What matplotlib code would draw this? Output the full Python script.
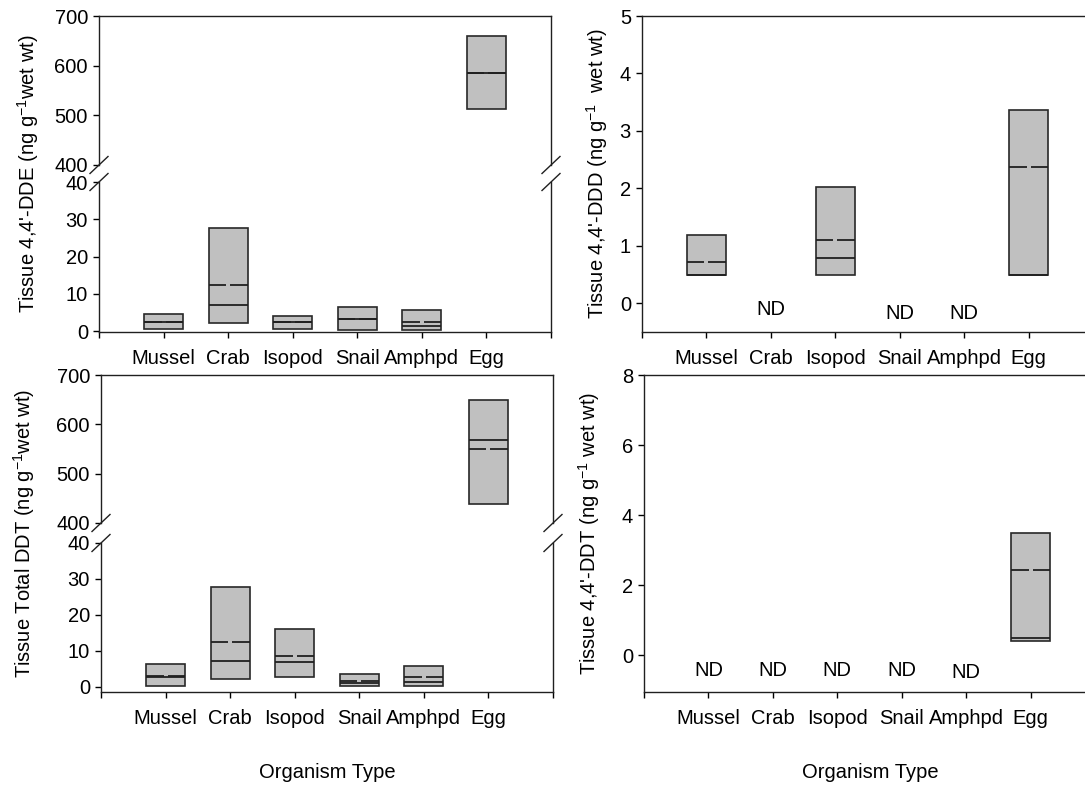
import numpy as np
import matplotlib
matplotlib.use("Agg")
import matplotlib.pyplot as plt

plt.rcParams['font.family'] = ['Liberation Sans', 'DejaVu Sans']
plt.rcParams['mathtext.fontset'] = 'custom'
plt.rcParams['mathtext.rm'] = 'Liberation Sans'
plt.rcParams['mathtext.it'] = 'Liberation Sans'
plt.rcParams['font.size'] = 14.5

# Datos (rango min-max, mediana y media por organismo); None = no detectado
categorias = ['Mussel', 'Crab', 'Isopod', 'Snail', 'Amphpd', 'Egg']

dde_min = [0.5, 2.2, 0.7, 0.45, 0.45, 512]
dde_max = [4.5, 27.6, 4.0, 6.6, 5.8, 660]
dde_med = [2.4, 7.0, 2.4, 3.2, 1.3, 585]
dde_mean = [2.5, 12.3, 2.4, 3.4, 2.5, 585]

ddd_min = [0.49, None, 0.49, None, None, 0.49]
ddd_max = [1.18, None, 2.03, None, None, 3.37]
ddd_med = [0.50, None, 0.79, None, None, 0.50]
ddd_mean = [0.72, None, 1.10, None, None, 2.37]
ddd_nd_y = [None, -0.1, None, -0.18, -0.18, None]

tot_min = [0.3, 2.2, 2.6, 0.2, 0.3, 439]
tot_max = [6.3, 27.8, 16.1, 3.6, 5.8, 650]
tot_med = [2.6, 7.0, 6.9, 1.0, 1.3, 568]
tot_mean = [2.9, 12.3, 8.5, 1.7, 2.6, 549]

ddt_min = [None, None, None, None, None, 0.40]
ddt_max = [None, None, None, None, None, 3.49]
ddt_med = [None, None, None, None, None, 0.49]
ddt_mean = [None, None, None, None, None, 2.43]
ddt_nd_y = [-0.43, -0.43, -0.43, -0.43, -0.48, None]

x = np.arange(1, 7)
ancho = 0.6
W, H = 1085, 787


def cajas(ax, lo, hi, med, mean):
    for xi, a, b, m, mu in zip(x, lo, hi, med, mean):
        if a is None:
            continue
        ax.bar(xi, b - a, bottom=a, width=ancho, color='#c0c0c0',
               edgecolor='#282828', linewidth=1.2, zorder=2)
        ax.hlines(m, xi - ancho / 2, xi + ancho / 2, color='#202020',
                  linewidth=1.3, zorder=3)
        # media: linea con un pequeño hueco en el centro
        ax.hlines([mu, mu], [xi - ancho / 2, xi + 0.03], [xi - 0.03, xi + ancho / 2],
                  color='#202020', linewidth=1.3, zorder=3)


def estilo(ax):
    ax.set_xlim(0, 7)
    ax.tick_params(direction='out', length=4, width=1, pad=4)
    for s in ax.spines.values():
        s.set_color('#202020')
        s.set_linewidth(1)


def ejes_x(ax):
    ax.set_xticks(range(8))
    ax.set_xticklabels([''] + categorias + [''])
    ax.tick_params(axis='x', pad=8)


def px(x0, y0, x1, y1):
    return [x0 / W, 1 - y1 / H, (x1 - x0) / W, (y1 - y0) / H]


fig = plt.figure(figsize=(10.85, 7.87), dpi=100)


def panel_roto(y0, ymid0, ymid1, y1, x0, lo, hi, med, mean, ylo_min, etiqueta, xlab):
    ax_up = fig.add_axes(px(x0, y0, x0 + 452, ymid0))
    ax_dn = fig.add_axes(px(x0, ymid1, x0 + 452, y1))
    for ax in (ax_up, ax_dn):
        cajas(ax, lo, hi, med, mean)
        estilo(ax)
    ax_up.set_ylim(400, 700)
    ax_up.set_yticks([400, 500, 600, 700])
    ax_dn.set_ylim(ylo_min, 40)
    ax_dn.set_yticks([0, 10, 20, 30, 40])
    ax_up.spines['bottom'].set_visible(False)
    ax_dn.spines['top'].set_visible(False)
    ax_up.tick_params(axis='x', bottom=False, labelbottom=False)
    ejes_x(ax_dn)
    # marcas de corte
    for ax, yy in ((ax_up, 0), (ax_dn, 1)):
        hgt = ax.get_position().height * H
        wdt = ax.get_position().width * W
        dx, dy = 9 / wdt, 8.5 / hgt
        for xx in (0, 1):
            ax.plot([xx - dx, xx + dx], [yy - dy, yy + dy], color='#202020',
                    linewidth=1, transform=ax.transAxes, clip_on=False)
    fig.text(etiqueta[0] / W, 1 - (y0 + y1) / 2 / H, etiqueta[1], rotation=90,
             ha='center', va='center')
    if xlab:
        fig.text((x0 + 226) / W, 1 - 773 / H, 'Organism Type', ha='center', va='center')


def panel_simple(x0, y0, y1, lo, hi, med, mean, nd_y, ylim, yticks, etiqueta, xlab):
    ax = fig.add_axes(px(x0, y0, x0 + 451, y1))
    cajas(ax, lo, hi, med, mean)
    estilo(ax)
    ax.set_ylim(*ylim)
    ax.set_yticks(yticks)
    ejes_x(ax)
    for xi, ny in zip(x, nd_y):
        if ny is not None:
            ax.text(xi, ny, 'ND', ha='center', va='center')
    fig.text(etiqueta[0] / W, 1 - (y0 + y1) / 2 / H, etiqueta[1], rotation=90,
             ha='center', va='center')
    if xlab:
        fig.text((x0 + 226) / W, 1 - 773 / H, 'Organism Type', ha='center', va='center')


panel_roto(16, 165, 182, 332, 99, dde_min, dde_max, dde_med, dde_mean, -0.2,
           (28, "Tissue 4,4'-DDE (ng g$^{-1}$wet wt)"), False)
panel_roto(375, 523, 543, 692, 101, tot_min, tot_max, tot_med, tot_mean, -1.5,
           (24, "Tissue Total DDT (ng g$^{-1}$wet wt)"), True)
panel_simple(642, 16, 332, ddd_min, ddd_max, ddd_med, ddd_mean, ddd_nd_y,
             (-0.5, 5), [0, 1, 2, 3, 4, 5],
             (597, "Tissue 4,4'-DDD (ng g$^{-1}$  wet wt)"), False)
panel_simple(644, 375, 692, ddt_min, ddt_max, ddt_med, ddt_mean, ddt_nd_y,
             (-1.05, 8), [0, 2, 4, 6, 8],
             (589, "Tissue 4,4'-DDT (ng g$^{-1}$ wet wt)"), True)

fig.savefig('out.png', dpi=100)
